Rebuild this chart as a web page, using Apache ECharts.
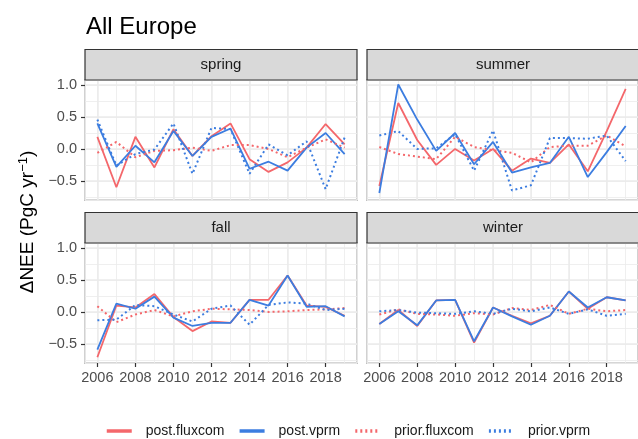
<!DOCTYPE html>
<html>
<head>
<meta charset="utf-8">
<script src="https://cdn.jsdelivr.net/npm/echarts@6/dist/echarts.min.js"></script>
<style>html,body{margin:0;padding:0;background:#fff;}#c{width:638px;height:439px;}</style>
</head>
<body>
<div id="c"></div>
<script>
const years = [2006,2007,2008,2009,2010,2011,2012,2013,2014,2015,2016,2017,2018,2019];
const seasons = ['spring','summer','fall','winter'];
const seriesNames = ['post.fluxcom','post.vprm','prior.fluxcom','prior.vprm'];

const springPostFluxcom = [0.19,-0.60,0.19,-0.29,0.31,-0.11,0.20,0.40,-0.16,-0.36,-0.21,0.02,0.39,0.07];
const springPostVprm    = [0.40,-0.28,0.05,-0.21,0.28,-0.11,0.19,0.32,-0.31,-0.20,-0.34,0.02,0.25,-0.08];
const springPriorFluxcom= [-0.06,0.11,-0.13,-0.03,-0.02,0.02,-0.03,0.06,0.06,0.00,-0.13,0.02,0.15,0.02];
const springPriorVprm   = [0.46,-0.26,-0.08,-0.01,0.40,-0.39,0.33,0.31,-0.39,0.07,-0.10,0.12,-0.63,0.18];

const summerPostFluxcom = [-0.58,0.72,0.14,-0.25,0.00,-0.18,0.00,-0.34,-0.15,-0.22,0.07,-0.35,0.28,0.94];
const summerPostVprm    = [-0.69,1.01,0.46,-0.03,0.25,-0.24,0.11,-0.37,-0.29,-0.22,0.19,-0.44,-0.05,0.36];
const summerPriorFluxcom= [0.03,-0.08,-0.12,-0.16,0.19,0.03,-0.02,-0.06,-0.21,0.03,0.05,0.05,0.21,0.04];
const summerPriorVprm   = [0.21,0.28,0.00,0.01,0.23,-0.34,0.29,-0.65,-0.57,0.17,0.17,0.16,0.21,-0.19];

const fallPostFluxcom   = [-0.71,0.10,0.07,0.28,-0.08,-0.30,-0.15,-0.17,0.19,0.19,0.57,0.10,0.08,-0.06];
const fallPostVprm      = [-0.59,0.13,0.05,0.24,-0.09,-0.22,-0.17,-0.17,0.19,0.10,0.57,0.08,0.09,-0.07];
const fallPriorFluxcom  = [0.09,-0.16,-0.04,0.03,-0.07,0.01,0.05,0.04,0.03,0.00,0.01,0.03,0.04,0.06];
const fallPriorVprm     = [-0.13,-0.12,0.11,0.09,-0.04,-0.15,0.05,0.10,-0.20,0.11,0.15,0.13,0.03,0.05];

const winterPostFluxcom = [-0.19,0.03,-0.22,0.18,0.19,-0.48,0.07,-0.06,-0.18,-0.06,0.32,0.05,0.23,0.18];
const winterPostVprm    = [-0.19,0.01,-0.21,0.18,0.19,-0.46,0.07,-0.07,-0.20,-0.06,0.32,0.07,0.23,0.18];
const winterPriorFluxcom= [-0.04,0.04,-0.03,-0.04,-0.06,-0.02,-0.04,0.06,0.03,0.11,-0.03,0.05,0.01,0.03];
const winterPriorVprm   = [0.01,0.03,-0.01,-0.02,-0.03,0.01,-0.03,0.05,0.01,0.07,-0.03,0.04,-0.06,-0.03];

const panelData = {
  spring: [springPostFluxcom, springPostVprm, springPriorFluxcom, springPriorVprm],
  summer: [summerPostFluxcom, summerPostVprm, summerPriorFluxcom, summerPriorVprm],
  fall:   [fallPostFluxcom, fallPostVprm, fallPriorFluxcom, fallPriorVprm],
  winter: [winterPostFluxcom, winterPostVprm, winterPriorFluxcom, winterPriorVprm]
};

const RED = '#F4676B', BLUE = '#3C7DE0';
const styles = [
  {color: RED, type: 'solid', width: 1.8},
  {color: BLUE, type: 'solid', width: 1.8},
  {color: RED, type: [2, 3], width: 2},
  {color: BLUE, type: [2, 3], width: 2}
];

const X_MIN = 2005.35, X_MAX = 2019.65, Y_MIN = -0.8, Y_MAX = 1.08;
const colLeft = [85, 367], colWidth = [272, 272];
const rowTop = [80, 243], rowHeight = [120, 120];
const STRIP_H = 30.5;

const grids = [], xAxes = [], yAxes = [], series = [], graphics = [];
const fmtY = v => (v < 0 ? '\u2212' : '') + Math.abs(v).toFixed(1);

seasons.forEach((s, i) => {
  const r = Math.floor(i / 2), c = i % 2;
  grids.push({left: colLeft[c], top: rowTop[r], width: colWidth[c], height: rowHeight[r],
    show: true, backgroundColor: '#fff', borderColor: '#333333', borderWidth: 1.2, containLabel: false});
  xAxes.push({type: 'value', gridIndex: i, min: X_MIN, max: X_MAX, splitNumber: 7, minInterval: 2, maxInterval: 2,
    axisLine: {show: false, onZero: false},
    axisTick: {show: r === 1, length: 4, lineStyle: {color: '#333333', width: 1.2}},
    axisLabel: {show: r === 1, showMinLabel: false, showMaxLabel: false, color: '#4D4D4D', fontSize: 14.5,
      fontFamily: 'Liberation Sans', margin: 7, formatter: v => String(Math.round(v))},
    splitLine: {show: true, lineStyle: {color: '#EBEBEB', width: 1.5}}, z: 1});
  xAxes.push({type: 'value', gridIndex: i, min: X_MIN, max: X_MAX, splitNumber: 14, minInterval: 1, maxInterval: 1,
    axisLine: {show: false, onZero: false}, axisTick: {show: false}, axisLabel: {show: false},
    splitLine: {show: true, lineStyle: {color: '#EBEBEB', width: 0.8}}, z: 0});
  yAxes.push({type: 'value', gridIndex: i, min: Y_MIN, max: Y_MAX, splitNumber: 4, minInterval: 0.5, maxInterval: 0.5,
    axisLine: {show: false, onZero: false},
    axisTick: {show: c === 0, length: 4, lineStyle: {color: '#333333', width: 1.2}},
    axisLabel: {show: c === 0, showMinLabel: false, showMaxLabel: false, color: '#4D4D4D', fontSize: 14.5,
      fontFamily: 'Liberation Sans', margin: 8, formatter: fmtY},
    splitLine: {show: true, lineStyle: {color: '#EBEBEB', width: 1.5}}, z: 1});
  yAxes.push({type: 'value', gridIndex: i, min: Y_MIN, max: Y_MAX, splitNumber: 8, minInterval: 0.25, maxInterval: 0.25,
    axisLine: {show: false, onZero: false}, axisTick: {show: false}, axisLabel: {show: false},
    splitLine: {show: true, lineStyle: {color: '#EBEBEB', width: 0.8}}, z: 0});

  panelData[s].forEach((vals, k) => {
    series.push({name: seriesNames[k], type: 'line', xAxisIndex: 2 * i, yAxisIndex: 2 * i,
      data: years.map((y, j) => [y, vals[j]]), symbol: 'none', showSymbol: false,
      lineStyle: styles[k], itemStyle: {color: styles[k].color}, z: 3, silent: true, animation: false});
  });

  graphics.push({type: 'rect', shape: {x: colLeft[c], y: rowTop[r] - STRIP_H, width: colWidth[c], height: STRIP_H},
    style: {fill: '#D9D9D9', stroke: '#333333', lineWidth: 1.2}, z: 10});
  graphics.push({type: 'text', x: colLeft[c] + colWidth[c] / 2, y: rowTop[r] - STRIP_H / 2,
    style: {text: s, fill: '#1A1A1A', fontSize: 15, fontFamily: 'Liberation Sans', align: 'center', verticalAlign: 'middle'}, z: 11});
});

graphics.push({type: 'text', x: 28, y: 222, rotation: Math.PI / 2,
  style: {text: '{a|\u0394NEE (PgC yr}{s|\u22121}{a|)}', align: 'center', verticalAlign: 'middle',
    rich: {a: {fontSize: 19, fontFamily: 'Liberation Sans', color: '#000'},
           s: {fontSize: 13, fontFamily: 'Liberation Sans', color: '#000', verticalAlign: 'top', padding: [0, 0, 9, 0]}}}, z: 11});

const chart = echarts.init(document.getElementById('c'), null, {renderer: 'canvas'});
chart.setOption({
  animation: false,
  backgroundColor: '#fff',
  title: {text: 'All Europe', left: 81, top: 10,
    textStyle: {fontSize: 24, fontWeight: 'normal', color: '#000', fontFamily: 'Liberation Sans'}},
  legend: {data: seriesNames, left: 100, top: 419, itemWidth: 25, itemHeight: 14, itemGap: 13.5,
    lineStyle: {width: 3.5},
    itemStyle: {color: 'rgba(0,0,0,0)', borderWidth: 0, opacity: 0},
    textStyle: {fontSize: 14, color: '#1A1A1A', fontFamily: 'Liberation Sans', padding: [0, 0, 0, 9]}},
  grid: grids, xAxis: xAxes, yAxis: yAxes, series: series, graphic: graphics
});
</script>
</body>
</html>
